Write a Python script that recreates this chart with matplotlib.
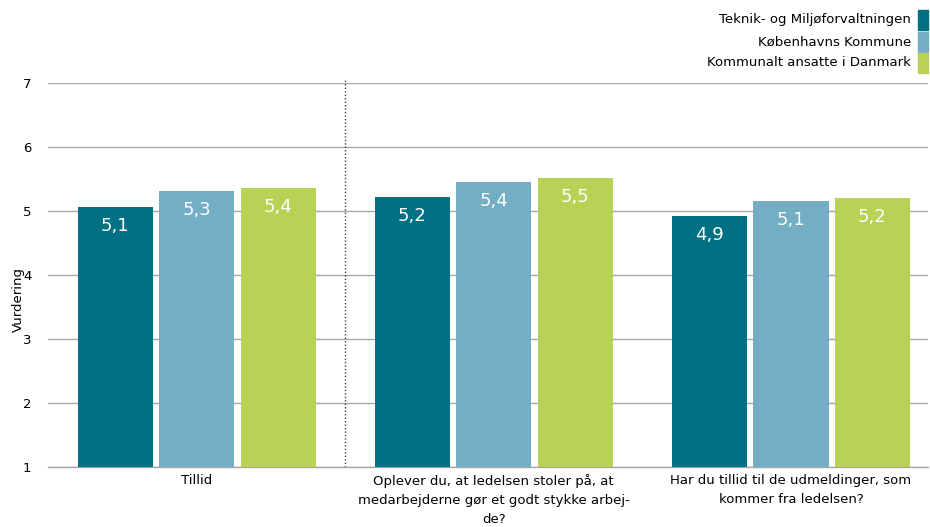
import numpy as np
import matplotlib.pyplot as plt
from matplotlib.patches import Rectangle

# data
categories = ['Tillid',
              'Oplever du, at ledelsen stoler på, at\nmedarbejderne gør et godt stykke arbej-\nde?',
              'Har du tillid til de udmeldinger, som\nkommer fra ledelsen?']
series = ['Teknik- og Miljøforvaltningen', 'Københavns Kommune', 'Kommunalt ansatte i Danmark']
values = [[5.06, 5.22, 4.92],
          [5.31, 5.45, 5.16],
          [5.36, 5.52, 5.20]]
labels = [['5,1', '5,2', '4,9'],
          ['5,3', '5,4', '5,1'],
          ['5,4', '5,5', '5,2']]
colors = ['#007083', '#74AEC4', '#B7D255']

W, H = 930, 527
fig = plt.figure(figsize=(W / 100, H / 100), dpi=100)
ax = fig.add_axes([48 / W, 1 - 467 / H, (928 - 48) / W, (467 - 83) / H])

x = np.arange(len(categories))
width = 0.2525
offsets = [-0.274, 0.0, 0.274]
for i in range(3):
    bars = ax.bar(x + offsets[i], values[i], width, bottom=0, color=colors[i], zorder=3)
    for b, v, lab in zip(bars, values[i], labels[i]):
        ax.text(b.get_x() + b.get_width() / 2, v - 0.3, lab, ha='center', va='center',
                color='white', fontsize=13, zorder=4)

ax.set_ylim(1, 7)
ax.set_xlim(-0.5, 2.461)
ax.set_yticks(range(1, 8))
ax.yaxis.grid(True, color='#a6a6a6', linewidth=1.0, zorder=0)
ax.set_axisbelow(True)
for s in ['top', 'right', 'left']:
    ax.spines[s].set_visible(False)
ax.spines['bottom'].set_color('#a6a6a6')
ax.spines['bottom'].set_linewidth(1.0)
ax.tick_params(axis='y', length=0, labelsize=9.5, pad=12)
ax.tick_params(axis='x', length=0, labelsize=9.5, pad=5)
ax.set_xticks(x)
ax.set_xticklabels(categories, linespacing=1.6)
ax.axvline(0.5, ymin=0, ymax=1.01, color='#404040', linestyle=(0, (1, 1.5)), linewidth=1, clip_on=False)

fig.text(18 / W, 1 - 300 / H, 'Vurdering', rotation=90, ha='center', va='center', fontsize=9.5)

# legend
for i, (name, c) in enumerate(zip(series, colors)):
    yc = [20, 42, 63][i]
    fig.text(911 / W, 1 - yc / H, name, ha='right', va='center', fontsize=9.5)
    fig.patches.append(Rectangle((918 / W, 1 - (yc + 10) / H), 10 / W, 20 / H,
                                 transform=fig.transFigure, color=c, figure=fig))

fig.savefig('out.png', dpi=100)
